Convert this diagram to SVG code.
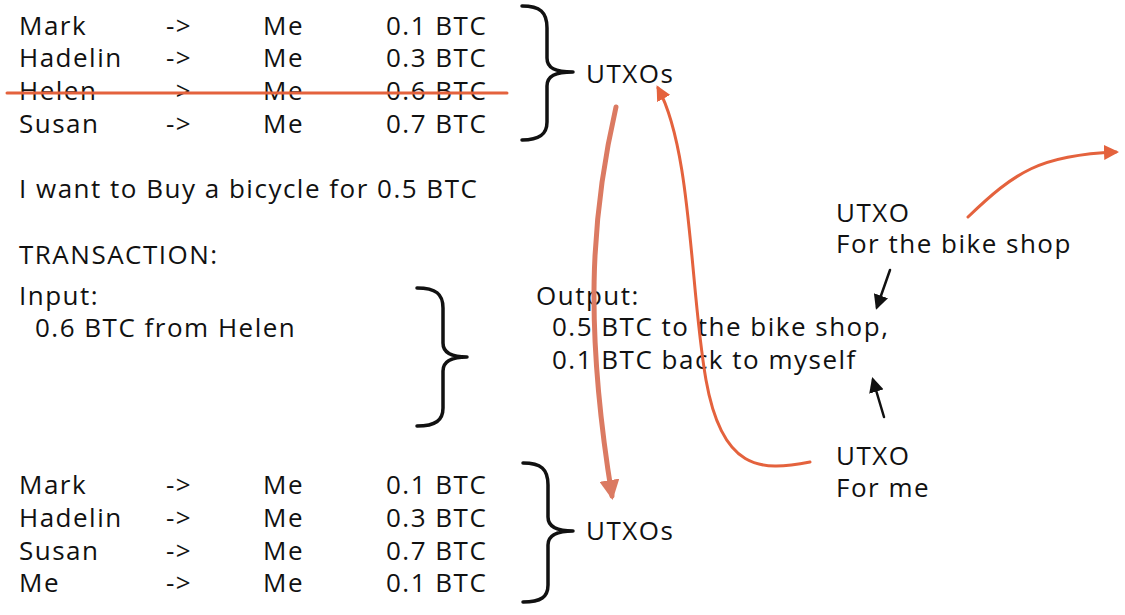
<svg xmlns="http://www.w3.org/2000/svg" width="1125" height="615" viewBox="0 0 1125 615">
<defs>
<style>
text{font-family:"Open Sans","Noto Sans",sans-serif;font-size:26px;letter-spacing:1.5px;fill:#111;}
.brace{fill:none;stroke:#111;stroke-width:3.5;stroke-linecap:round;stroke-linejoin:round;}
.red{fill:none;stroke:#E4623D;stroke-width:3;stroke-linecap:round;}
.salmon{fill:none;stroke:#DB7A62;stroke-width:5;stroke-linecap:round;}
.blk{fill:none;stroke:#111;stroke-width:2.5;stroke-linecap:round;}
</style>
<marker id="ahRed" viewBox="0 0 10 10" refX="8" refY="5" markerWidth="5" markerHeight="5" orient="auto" markerUnits="strokeWidth"><path d="M0,0 L10,5 L0,10 z" fill="#E4623D"/></marker>
<marker id="ahSal" viewBox="0 0 10 10" refX="8" refY="5" markerWidth="4" markerHeight="4" orient="auto" markerUnits="strokeWidth"><path d="M0,0 L10,5 L0,10 z" fill="#DB7A62"/></marker>
<marker id="ahBlk" viewBox="0 0 10 10" refX="8" refY="5" markerWidth="6" markerHeight="6" orient="auto" markerUnits="strokeWidth"><path d="M0,0 L10,5 L0,10 z" fill="#111"/></marker>
</defs>
<rect width="1125" height="615" fill="#fff"/>

<g id="utxos-before">
<text x="19" y="35">Mark</text><text x="166" y="35">-&gt;</text><text x="263" y="35">Me</text><text x="386" y="35">0.1 BTC</text>
<text x="19" y="67">Hadelin</text><text x="166" y="67">-&gt;</text><text x="263" y="67">Me</text><text x="386" y="67">0.3 BTC</text>
<text x="19" y="100">Helen</text><text x="166" y="100">-&gt;</text><text x="263" y="100">Me</text><text x="386" y="100">0.6 BTC</text>
<text x="19" y="133">Susan</text><text x="166" y="133">-&gt;</text><text x="263" y="133">Me</text><text x="386" y="133">0.7 BTC</text>
<path class="brace" d="M522,6 C540,6 547,12 547,28 L547,58 C547,68 555,72 573,72 C555,72 547,76 547,86 L547,122 C547,134 540,140 522,140"/>
<text x="586" y="83">UTXOs</text>
</g>

<g id="strike"><line class="red" x1="7" y1="93" x2="507" y2="93"/></g>

<g id="intro"><text x="19" y="198">I want to Buy a bicycle for 0.5 BTC</text></g>
<g id="transaction"><text x="19" y="264">TRANSACTION:</text></g>

<g id="input">
<text x="19" y="305">Input:</text>
<text x="35" y="337">0.6 BTC from Helen</text>
<path class="brace" d="M417,288 C436,288 443,294 443,308 L443,343 C443,352 450,357 467,357 C450,357 443,362 443,371 L443,408 C443,420 436,426 417,426"/>
</g>

<g id="output">
<text x="536" y="305">Output:</text>
<text x="552" y="336">0.5 BTC to the bike shop,</text>
<text x="552" y="369">0.1 BTC back to myself</text>
</g>

<g id="utxo-shop">
<text x="836" y="222">UTXO</text>
<text x="836" y="253">For the bike shop</text>
</g>

<g id="utxo-me">
<text x="836" y="465">UTXO</text>
<text x="836" y="497">For me</text>
</g>

<g id="utxos-after">
<text x="19" y="494">Mark</text><text x="166" y="494">-&gt;</text><text x="263" y="494">Me</text><text x="386" y="494">0.1 BTC</text>
<text x="19" y="527">Hadelin</text><text x="166" y="527">-&gt;</text><text x="263" y="527">Me</text><text x="386" y="527">0.3 BTC</text>
<text x="19" y="560">Susan</text><text x="166" y="560">-&gt;</text><text x="263" y="560">Me</text><text x="386" y="560">0.7 BTC</text>
<text x="19" y="592">Me</text><text x="166" y="592">-&gt;</text><text x="263" y="592">Me</text><text x="386" y="592">0.1 BTC</text>
<path class="brace" d="M523,463 C541,463 548,469 548,485 L548,517 C548,526 555,531 573,531 C555,531 548,536 548,545 L548,585 C548,597 541,602 523,602"/>
<text x="586" y="540">UTXOs</text>
</g>

<g id="connectors">
<path class="salmon" d="M616,107 C590,220 585,330 612,496" marker-end="url(#ahSal)"/>
<path class="red" d="M810,462 C760,472 722,470 706,380 C690,290 692,150 658,88" marker-end="url(#ahRed)"/>
<path class="red" d="M968,217 C1015,172 1040,155 1116,152" marker-end="url(#ahRed)"/>
<path class="blk" d="M890,270 L877,307" marker-end="url(#ahBlk)"/>
<path class="blk" d="M884,417 L873,380" marker-end="url(#ahBlk)"/>
</g>
</svg>
